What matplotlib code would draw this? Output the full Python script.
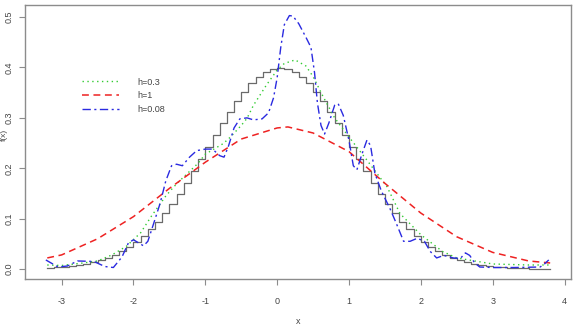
import numpy as np
import matplotlib
matplotlib.use("Agg")
import matplotlib.pyplot as plt

# true density (step curve) on grid
step_x = [round(-3.2 + 0.1 * i, 1) for i in range(71)]
step_y = [0.0024, 0.0033, 0.0044, 0.0060, 0.0079, 0.0104, 0.0136, 0.0175, 0.0224, 0.0283,
          0.0355, 0.0440, 0.0540, 0.0656, 0.0790, 0.0940, 0.1109, 0.1295, 0.1497, 0.1714,
          0.1942, 0.2179, 0.2420, 0.2661, 0.2897, 0.3123, 0.3332, 0.3521, 0.3683, 0.3814,
          0.3910, 0.3970, 0.3989, 0.3970, 0.3910, 0.3814, 0.3683, 0.3521, 0.3332, 0.3123,
          0.2897, 0.2661, 0.2420, 0.2179, 0.1942, 0.1714, 0.1497, 0.1295, 0.1109, 0.0940,
          0.0790, 0.0656, 0.0540, 0.0440, 0.0355, 0.0283, 0.0224, 0.0175, 0.0136, 0.0104,
          0.0079, 0.0060, 0.0044, 0.0033, 0.0024, 0.0017, 0.0012, 0.0009, 0.0006, 0.0004,
          0.0003]

# h = 0.3
green_x = [-3.2, -3.0, -2.7, -2.5, -2.3, -2.1, -1.9, -1.75, -1.55, -1.44, -1.35, -1.1, -1.0,
           -0.75, -0.65, -0.5, -0.42, -0.33, -0.15, 0.0, 0.1, 0.25, 0.4, 0.5, 0.64, 0.8, 1.0,
           1.25, 1.53, 1.71, 2.0, 2.3, 2.5, 3.0, 3.5, 3.8]
green_y = [0.008, 0.007, 0.012, 0.016, 0.028, 0.045, 0.072, 0.105, 0.145, 0.163, 0.176, 0.21,
           0.228, 0.249, 0.262, 0.285, 0.299, 0.325, 0.365, 0.395, 0.408, 0.415, 0.403, 0.382,
           0.342, 0.30, 0.262, 0.216, 0.163, 0.11, 0.068, 0.035, 0.022, 0.010, 0.008, 0.008]

# h = 1
red_x = [-3.2, -3.0, -2.5, -2.0, -1.5, -1.0, -0.5, 0.0, 0.15, 0.5, 1.0, 1.5, 2.0, 2.5, 3.0,
         3.5, 3.8]
red_y = [0.022, 0.028, 0.060, 0.104, 0.160, 0.212, 0.258, 0.280, 0.282, 0.270, 0.233, 0.170,
         0.111, 0.064, 0.033, 0.016, 0.012]

# h = 0.08
blue_x = [-3.22, -3.05, -2.92, -2.78, -2.55, -2.40, -2.28, -2.16, -2.07, -2.0, -1.93, -1.86,
          -1.80, -1.72, -1.63, -1.55, -1.47, -1.40, -1.32, -1.22, -1.12, -1.0, -0.90, -0.80,
          -0.74, -0.68, -0.60, -0.52, -0.42, -0.33, -0.21, -0.12, -0.05, 0.0, 0.05, 0.10,
          0.17, 0.22, 0.30, 0.40, 0.47, 0.52, 0.56, 0.61, 0.66, 0.72, 0.80, 0.85, 0.92, 1.0,
          1.06, 1.11, 1.18, 1.25, 1.30, 1.36, 1.45, 1.57, 1.66, 1.76, 1.85, 1.95, 2.05, 2.13,
          2.22, 2.32, 2.45, 2.55, 2.62, 2.68, 2.75, 2.82, 3.0, 3.3, 3.66, 3.72, 3.78]
blue_y = [0.018, 0.004, 0.006, 0.016, 0.015, 0.005, 0.003, 0.024, 0.052, 0.058, 0.052, 0.046,
          0.055, 0.090, 0.130, 0.175, 0.205, 0.208, 0.205, 0.222, 0.235, 0.238, 0.238, 0.225,
          0.222, 0.243, 0.280, 0.298, 0.300, 0.296, 0.298, 0.310, 0.340, 0.380, 0.440, 0.485,
          0.503, 0.502, 0.487, 0.460, 0.440, 0.390, 0.330, 0.285, 0.268, 0.290, 0.325, 0.328,
          0.305, 0.255, 0.205, 0.197, 0.228, 0.256, 0.245, 0.190, 0.155, 0.120, 0.090, 0.055,
          0.055, 0.061, 0.055, 0.035, 0.022, 0.027, 0.022, 0.021, 0.032, 0.027, 0.012, 0.004,
          0.003, 0.003, 0.004, 0.010, 0.018]

legend_labels = ["h=0.3", "h=1", "h=0.08"]
x_ticks = [-3, -2, -1, 0, 1, 2, 3, 4]
y_ticks = [0.0, 0.1, 0.2, 0.3, 0.4, 0.5]

plt.rcParams['font.family'] = ['Liberation Sans', 'DejaVu Sans']

fig = plt.figure(figsize=(5.78, 3.26), dpi=100)
ax = fig.add_axes([25 / 578, 1 - 279 / 326, 546 / 578, 274 / 326])

ax.step(step_x, step_y, where='post', color='#6a6a6a', lw=0.9)
l1, = ax.plot(green_x, green_y, color='#33cc33', lw=1.0, linestyle=(0, (1, 2.5)))
l2, = ax.plot(red_x, red_y, color='#ee2222', lw=1.1, linestyle=(0, (4.5, 3)))
l3, = ax.plot(blue_x, blue_y, color='#2a2ae0', lw=1.0, linestyle=(0, (6, 2.5, 1.5, 2.5)))

ax.set_xlim(-3.51, 4.09)
ax.set_ylim(-0.0198, 0.524)
ax.set_xticks(x_ticks)
ax.set_xticklabels([str(t) for t in x_ticks])
ax.set_yticks(y_ticks)
ax.set_yticklabels(["%.1f" % t for t in y_ticks], rotation=90, va='center')

for s in ax.spines.values():
    s.set_color('#8c8c8c')
    s.set_linewidth(1.0)
ax.tick_params(axis='both', colors='#8c8c8c', labelcolor='#444444', labelsize=6.5,
               length=4, width=0.8, direction='out')
ax.tick_params(axis='x', pad=9)
ax.tick_params(axis='y', pad=4)

ax.set_xlabel('x', fontsize=6.5, color='#444444', labelpad=8)
fig.text(0.008, 0.585, 'f(x)', rotation=90, fontsize=6.0, color='#444444',
         ha='center', va='center')

leg = ax.legend([l1, l2, l3], legend_labels, loc='upper left',
                bbox_to_anchor=(0.09, 0.765), frameon=False, fontsize=6.5,
                handlelength=4.1, handletextpad=2.0, labelspacing=0.55)
for t in leg.get_texts():
    t.set_color('#444444')

fig.savefig('out.png', dpi=100)
